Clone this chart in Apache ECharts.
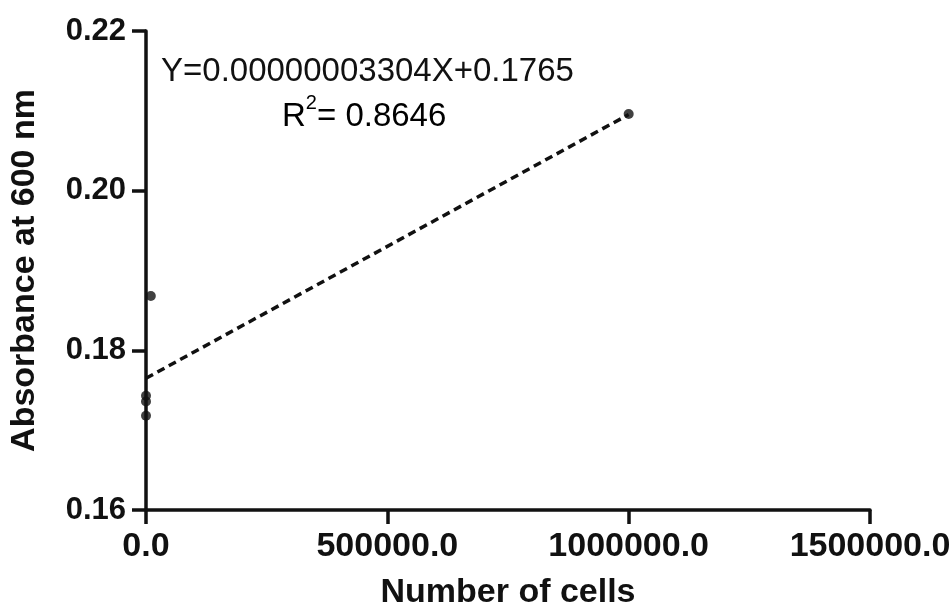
<!DOCTYPE html>
<html>
<head>
<meta charset="utf-8">
<script src="https://cdn.jsdelivr.net/npm/echarts@6/dist/echarts.min.js"></script>
<style>
  html, body { margin: 0; padding: 0; background: #fff; }
  #chart { width: 951px; height: 606px; }
</style>
</head>
<body>
<div id="chart"></div>
<script>
// Measured absorbance vs. cell count
const cellCounts = [0, 0, 0, 10000, 1000000];
const absorbance = [0.1718, 0.1736, 0.1743, 0.1868, 0.2096];

// Linear fit
const fitSlope = 0.00000003304;
const fitIntercept = 0.1765;
const fitR2 = 0.8646;
const fitRange = [0, 1000000];

const xTicks = [0, 500000, 1000000, 1500000];
const yTicks = [0.16, 0.18, 0.20, 0.22];

const FONT = '"Liberation Sans", Arial, sans-serif';
const INK = '#111';

const points = cellCounts.map((x, i) => [x, absorbance[i]]);
const fitLine = fitRange.map(x => [x, fitSlope * x + fitIntercept]);

const chart = echarts.init(document.getElementById('chart'), null, { renderer: 'canvas' });

chart.setOption({
  animation: false,
  backgroundColor: '#fff',
  grid: {
    left: 146, right: 81, top: 31, bottom: 96,
    containLabel: false,
    outerBoundsMode: 'none'
  },
  xAxis: {
    type: 'value',
    min: xTicks[0],
    max: xTicks[xTicks.length - 1],
    interval: xTicks[1] - xTicks[0],
    name: 'Number of cells',
    nameLocation: 'middle',
    nameGap: 66,
    nameTextStyle: { fontFamily: FONT, fontSize: 34, fontWeight: 'bold', color: INK },
    axisLine: { show: true, lineStyle: { color: INK, width: 3.5 } },
    axisTick: { show: true, length: 14, lineStyle: { color: INK, width: 3.5 } },
    axisLabel: {
      fontFamily: FONT, fontSize: 34, fontWeight: 'bold', color: INK, margin: 20,
      formatter: v => v.toFixed(1)
    },
    splitLine: { show: false }
  },
  yAxis: {
    type: 'value',
    min: yTicks[0],
    max: yTicks[yTicks.length - 1],
    interval: 0.02,
    name: 'Absorbance at 600 nm',
    nameLocation: 'middle',
    nameGap: 104,
    nameRotate: 90,
    nameTextStyle: { fontFamily: FONT, fontSize: 34, fontWeight: 'bold', color: INK },
    axisLine: { show: true, lineStyle: { color: INK, width: 3.5 } },
    axisTick: { show: true, length: 14, lineStyle: { color: INK, width: 3.5 } },
    axisLabel: {
      fontFamily: FONT, fontSize: 31, fontWeight: 'bold', color: INK, margin: 20,
      formatter: v => v.toFixed(2)
    },
    splitLine: { show: false }
  },
  series: [
    {
      type: 'line',
      data: fitLine,
      symbol: 'none',
      lineStyle: { color: INK, width: 3.5, type: [8, 5] },
      z: 2
    },
    {
      type: 'scatter',
      data: points,
      symbol: 'circle',
      symbolSize: 10,
      itemStyle: { color: INK },
      z: 3
    }
  ],
  graphic: [
    {
      type: 'text',
      x: 161,
      y: 72,
      style: {
        text: 'Y=' + fitSlope.toFixed(11) + 'X+' + fitIntercept,
        font: '33px ' + FONT,
        fill: INK,
        verticalAlign: 'middle'
      }
    },
    {
      type: 'text',
      x: 282,
      y: 113,
      style: {
        text: '{a|R}{s|2}{a|= ' + fitR2 + '}',
        verticalAlign: 'middle',
        rich: {
          a: { fontFamily: FONT, fontSize: 33, color: INK, lineHeight: 40, verticalAlign: 'bottom' },
          s: { fontFamily: FONT, fontSize: 20, color: INK, lineHeight: 40, verticalAlign: 'top' }
        }
      }
    }
  ]
});
</script>
</body>
</html>
